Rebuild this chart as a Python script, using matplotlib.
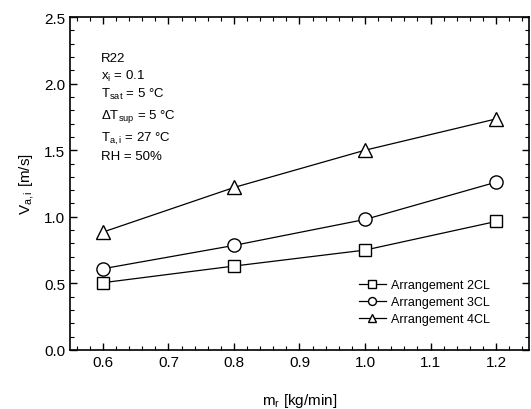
import matplotlib
matplotlib.use("Agg")
import matplotlib.pyplot as plt
from matplotlib.ticker import MultipleLocator

plt.rcParams['font.family'] = ['Liberation Sans', 'DejaVu Sans']
plt.rcParams['mathtext.fontset'] = 'custom'
plt.rcParams['mathtext.rm'] = 'Liberation Sans'
plt.rcParams['mathtext.it'] = 'Liberation Sans'
plt.rcParams['mathtext.bf'] = 'Liberation Sans:bold'

mr = [0.6, 0.8, 1.0, 1.2]
v_2cl = [0.505, 0.63, 0.75, 0.965]
v_3cl = [0.61, 0.785, 0.98, 1.26]
v_4cl = [0.885, 1.22, 1.50, 1.735]
labels = ["Arrangement 2CL", "Arrangement 3CL", "Arrangement 4CL"]

fig = plt.figure(figsize=(5.31, 4.10), dpi=100)
ax = fig.add_axes([0.132, 0.144, 0.864, 0.812])

kw = dict(color='black', lw=0.9, markerfacecolor='white', markeredgecolor='black', markeredgewidth=1.0)
ax.plot(mr, v_2cl, marker='s', markersize=8.5, label=labels[0], **kw)
ax.plot(mr, v_3cl, marker='o', markersize=9.5, label=labels[1], **kw)
ax.plot(mr, v_4cl, marker='^', markersize=10.5, label=labels[2], **kw)

ax.set_xlim(0.55, 1.25)
ax.set_ylim(0.0, 2.5)
ax.xaxis.set_major_locator(MultipleLocator(0.1))
ax.xaxis.set_minor_locator(MultipleLocator(0.02))
ax.yaxis.set_major_locator(MultipleLocator(0.5))
ax.yaxis.set_minor_locator(MultipleLocator(0.1))
ax.tick_params(which='both', direction='in', top=True, right=True, labelsize=11)
ax.tick_params(which='major', length=5, width=1.0)
ax.tick_params(which='minor', length=3, width=0.8)
for s in ax.spines.values():
    s.set_linewidth(1.2)

ax.set_xlabel(r"m$_r$ [kg/min]", fontsize=11, labelpad=16)
ax.set_ylabel(r"V$_{a,i}$ [m/s]", fontsize=11, labelpad=6)

info = ["R22", r"x$_i$ = 0.1", r"T$_{sat}$ = 5 °C", r"ΔT$_{sup}$ = 5 °C",
        r"T$_{a,i}$ = 27 °C", "RH = 50%"]
ys = [0.868, 0.815, 0.760, 0.698, 0.630, 0.574]
for t, y in zip(info, ys):
    ax.text(0.068, y, t, transform=ax.transAxes, fontsize=9.5, va='baseline', ha='left')

leg = ax.legend(loc='lower right', bbox_to_anchor=(0.94, 0.04), frameon=False, fontsize=9,
                markerscale=0.6, handlelength=2.2, handletextpad=0.4, labelspacing=0.4)

fig.savefig("out.png", dpi=100)
